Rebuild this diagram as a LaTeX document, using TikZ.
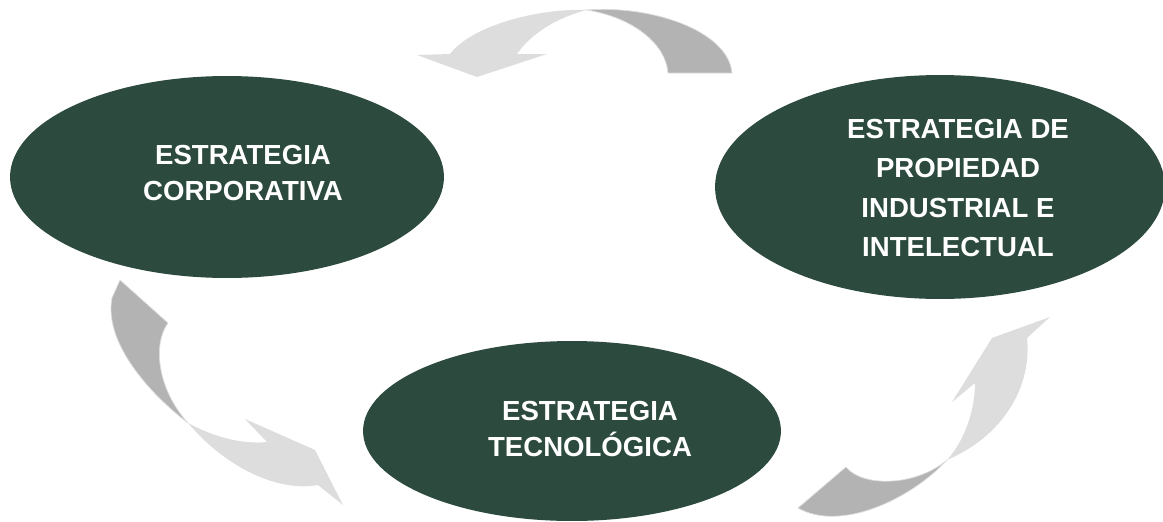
\documentclass[tikz,border=0pt]{standalone}
\usepackage{fontspec}
\setmainfont{Liberation Sans}
\usepackage{tikz}
\usetikzlibrary{shapes.geometric,calc}
\usepackage{xcolor}
\definecolor{verde}{RGB}{44,74,62}
\definecolor{grisosc}{RGB}{179,179,179}
\definecolor{grisclr}{RGB}{221,221,221}
\tikzset{
  blob/.style={ellipse,fill=verde,inner sep=0pt,outer sep=0pt},
  rotulo/.style={text=white,font=\fontsize{15.7}{#1}\selectfont\bfseries,align=center},
  rotulo/.default=21pt,
  tramo/.style={fill=grisosc,draw=grisclr,line width=0.4pt},
  punta/.style={fill=grisclr}
}

\begin{document}
\begin{tikzpicture}[x=0.02cm,y=-0.02cm]
    \useasboundingbox (0,0) rectangle (1163,521);

    % ellipses
    \node[blob,minimum width=8.68cm,minimum height=4.04cm] (corp) at (227,177) {};
    \node[blob,minimum width=9cm,minimum height=4.48cm] (prop) at (940,187) {};
    \node[blob,minimum width=8.36cm,minimum height=3.6cm] (tecno) at (572,431) {};

    \node[rotulo=20pt] (corptxt) at ($(corp)+(16,-4)$) {ESTRATEGIA\\CORPORATIVA};
    \node[rotulo=22.5pt] (proptxt) at ($(prop)+(18,1)$) {ESTRATEGIA DE\\PROPIEDAD\\INDUSTRIAL E\\INTELECTUAL};
    \node[rotulo=21pt] (tecnotxt) at ($(tecno)+(18,-2)$) {ESTRATEGIA\\TECNOLÓGICA};

    % top arrow
    \coordinate (tA) at (587,10);
    \fill[tramo] (tA) .. controls (650,5) and (728,30) .. (732,73) -- (668,73)
        .. controls (666,45) and (635,18) .. (tA) -- cycle;
    \fill[punta] (tA) .. controls (540,8) and (472,25) .. (450,54) -- (417,55) -- (477,77)
        -- (547,54) -- (517,54) .. controls (530,35) and (555,18) .. (tA) -- cycle;

    % left arrow
    \coordinate (lA) at (188,423);
    \fill[tramo] (120,280) -- (168,323) .. controls (152,345) and (158,390) .. (lA)
        .. controls (145,390) and (104,340) .. (112,298) -- cycle;
    \fill[punta] (lA) .. controls (210,435) and (240,445) .. (267,442) -- (245,419) -- (315,450)
        -- (343,505) -- (318,485) .. controls (280,492) and (228,470) .. (lA) -- cycle;

    % right arrow
    \coordinate (rA) at (947,460);
    \fill[tramo] (798,508) -- (846,467) .. controls (862,487) and (915,487) .. (rA)
        .. controls (910,500) and (840,532) .. (798,508) -- cycle;
    \fill[punta] (rA) .. controls (965,440) and (975,410) .. (975,383) -- (952,402) -- (992,338)
        -- (1050,317) -- (1027,338) .. controls (1032,385) and (1005,435) .. (rA) -- cycle;
\end{tikzpicture}
\end{document}
